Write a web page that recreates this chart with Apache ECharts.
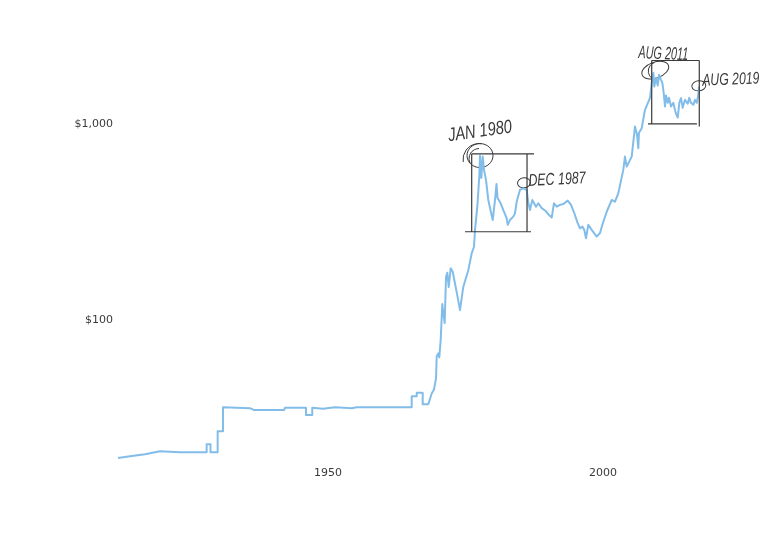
<!DOCTYPE html>
<html><head><meta charset="utf-8">
<style>html,body{margin:0;padding:0;background:#fff}#c{width:768px;height:548px}</style>
<script src="https://cdn.jsdelivr.net/npm/echarts@6/dist/echarts.min.js"></script>
</head><body><div id="c"></div>
<script>
const years = [1914.18,1916.36,1919.09,1919.45,1921.82,1925.45,1930.3,1930.3,1931,1931,1932.3,1932.3,1933.27,1933.27,1938.18,1938.95,1944.36,1944.55,1948.36,1948.36,1949.5,1949.5,1951.45,1953.64,1956.67,1957.58,1967.58,1967.58,1968.49,1968.49,1969.58,1969.58,1970.6,
1971.22,1971.64,1972,1972.13,1972.42,1972.6,1972.85,1973.15,1973.33,1973.58,1973.82,1974.05,1974.31,1974.67,1975.04,1975.45,1975.87,1976.36,1976.96,1977.27,1977.87,1978.18,1978.49,1978.91,1979.09,1979.51,1979.87,1980,1980.24,1980.49,1980.73,1981.09,1981.51,1981.82,1982.31,1982.73,1983,1983.18,1983.76,1984.24,1984.85,1985.04,1985.45,1986.05,1986.36,1986.67,1987.27,1987.87,1988.18,
1988.49,1988.78,1989.09,1989.51,1989.87,1990.18,1990.6,1991.22,1991.95,1992.55,1993.04,1993.45,1993.95,1994.55,1995.15,1995.95,1996.55,1997.15,1997.76,1998.18,1998.6,1998.96,
1999.27,1999.69,2000.31,2001.22,2001.82,2002.42,2003.04,2003.95,2004.55,2005.15,2005.45,2006.05,2006.36,2006.67,2007.58,2008.18,2008.55,2008.78,2008.9,2009.4,2010,
2010.31,2010.91,2011.22,2011.51,2011.69,2012,2012.31,2012.55,2012.91,2013.15,2013.4,2013.64,2013.82,2014.13,2014.36,2014.73,2015.15,2015.58,2015.95,2016.24,2016.55,2016.85,2017.27,2017.76,2018.05,2018.36,2018.78,2019.09,2019.4,2019.69,2019.82];
const prices = [19.3,19.7,20.2,20.6,20.9,20.67,20.67,22.7,22.7,20.67,20.67,26.4,26.4,35,34.6,33.85,33.85,34.8,34.8,31.9,31.9,34.8,34.4,35,34.6,35,35,39.8,39.8,41.4,41.4,36.2,36.2,
41.1,43.1,49,63.7,65.7,62.7,76.8,117,105.4,93.8,161,169,143,178,171,149,130,109,143,141,174,178,212,229,279,366,521,664,513,658,563,501,396,361,313,396,478,406,381,352,320,296,313,326,339,388,446,454,446,
446,383,352,396,404,366,381,360,348,332,322,381,366,374,378,393,374,339,302,284,290,279,
253,296,279,258,269,307,345,396,388,429,420,563,658,585,658,935,849,726,869,918,1138,
1115,1309,1561,1755,1495,1655,1512,1714,1617,1561,1388,1183,1345,1235,1309,1183,1235,1098,1039,1235,1305,1165,1279,1221,1309,1235,1206,1279,1235,1356,1495];
const xTicks = [1950,2000];
const yTicks = [100,1000];
const yTickLabels = ['$100','$1,000'];

// Pen marks on the scan, in chart units
const boxSegments = [
  [[1978.49,679],[1989.82,679]],[[1978.49,679],[1978.49,273]],[[1988.55,679],[1988.55,273]],[[1977.27,273],[1989.27,273]],
  [[2011.22,2027],[2019.87,2027]],[[2011.22,2027],[2011.22,966]],[[2019.87,2027],[2019.87,935]],[[2010.55,966],[2019.45,966]]
];
const noteLabels = ['JAN 1980','DEC 1987','AUG 2011','AUG 2019'];
const noteYears = [1980,1988,2011.87,2019.78];
const noteValues = [666,484,1811,1507];

const ink = '#3a3a3a';
const noteStyle = [
  {rx:13,ry:12,rot:0,dx:0,dy:-24,tr:0.14,fs:19,sx:0.77},
  {rx:6.5,ry:5,rot:0.1,dx:33,dy:-3,tr:0.05,fs:17,sx:0.73},
  {rx:14,ry:8,rot:0.35,dx:8,dy:-16,tr:-0.04,fs:18,sx:0.6},
  {rx:7,ry:5,rot:0.1,dx:32,dy:-6,tr:0.04,fs:17,sx:0.72}
];

const chart = echarts.init(document.getElementById('c'), null, {renderer:'canvas'});
const lineData = years.map((y,i)=>[y,prices[i]]);
const boxData = [];
boxSegments.forEach((s,i)=>{ if(i) boxData.push([null,null]); boxData.push(s[0],s[1]); });

chart.setOption({
  animation:false,
  backgroundColor:'#fff',
  grid:{left:117,top:27,width:583,height:437,containLabel:false},
  xAxis:{type:'value',min:1914,max:2020,
    axisLine:{show:false},axisTick:{show:false,customValues:xTicks},
    splitLine:{show:true,showMinLine:false,showMaxLine:false,lineStyle:{color:'#f8f8f8',width:1}},
    axisLabel:{customValues:xTicks,margin:4,padding:[0,0,0,26],fontFamily:'DejaVu Sans',fontSize:11,color:'#3a3a3a',
      hideOverlap:false,formatter:v=>String(v)}},
  yAxis:{type:'log',logBase:10,min:18,max:3000,
    axisLine:{show:false},axisTick:{show:false,customValues:yTicks},
    splitLine:{show:true,showMinLine:false,showMaxLine:false,lineStyle:{color:'#f8f8f8',width:1}},
    axisLabel:{customValues:yTicks,margin:4,verticalAlign:'top',lineHeight:6,fontFamily:'DejaVu Sans',fontSize:11,color:'#3a3a3a',
      formatter:v=>{const i=yTicks.indexOf(Math.round(v));return i<0?'':yTickLabels[i];}}},
  series:[
    {type:'line',data:lineData,showSymbol:false,symbol:'none',smooth:false,clip:false,
     lineStyle:{color:'#82bdea',width:2,join:'round'}},
    {type:'line',data:boxData,showSymbol:false,symbol:'none',connectNulls:false,clip:false,
     lineStyle:{color:ink,width:1.2}},
    {type:'custom',clip:false,coordinateSystem:'cartesian2d',
     data:noteYears.map((y,i)=>[y,noteValues[i]]),
     renderItem:(p,api)=>{
       const i=p.dataIndex, s=noteStyle[i], c=api.coord([api.value(0),api.value(1)]);
       const kids=[
         {type:'ellipse',shape:{cx:0,cy:0,rx:s.rx,ry:s.ry},x:c[0],y:c[1],rotation:s.rot,
          style:{fill:null,stroke:ink,lineWidth:1}},
         {type:'text',x:c[0]+s.dx,y:c[1]+s.dy,rotation:s.tr,scaleX:s.sx,
          style:{text:noteLabels[i],fill:ink,align:'center',verticalAlign:'middle',
                 font:'italic 300 '+s.fs+'px "Liberation Sans",sans-serif'}}
       ];
       if(i===0) kids.push({type:'arc',shape:{cx:c[0]-1,cy:c[1]+4,r:16,startAngle:Math.PI*0.95,endAngle:Math.PI*1.55},
          style:{fill:null,stroke:ink,lineWidth:1}},
          {type:'arc',shape:{cx:c[0]-1,cy:c[1]+3,r:10,startAngle:Math.PI*0.85,endAngle:Math.PI*1.5},
          style:{fill:null,stroke:ink,lineWidth:1}});
       if(i===2) kids.push({type:'arc',shape:{cx:c[0]+2,cy:c[1]+1,r:9,startAngle:Math.PI*0.7,endAngle:Math.PI*1.4},
          style:{fill:null,stroke:ink,lineWidth:1}});
       return {type:'group',children:kids};
     }}
  ]
});
</script></body></html>
